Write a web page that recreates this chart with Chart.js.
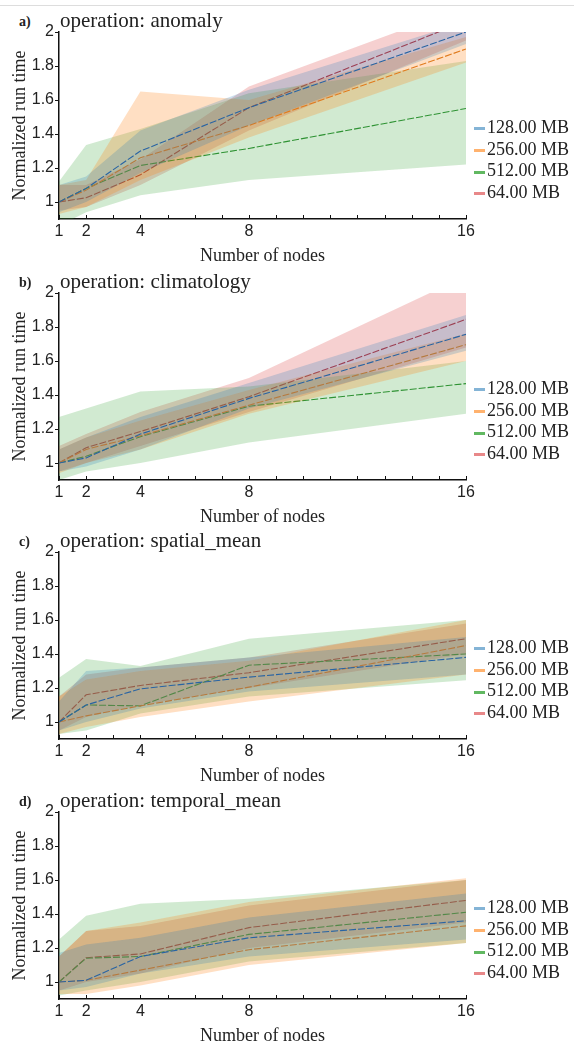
<!DOCTYPE html>
<html>
<head>
<meta charset="utf-8">
<script src="https://cdn.jsdelivr.net/npm/chart.js@4.4.1/dist/chart.umd.min.js"></script>
<style>
  body { margin: 0; background: #fff; width: 574px; height: 1047px; position: relative; overflow: hidden;
         font-family: "Liberation Serif", "Times New Roman", serif; color: #222; }
  .topline { position: absolute; left: 0; top: 5px; width: 574px; border-top: 1px solid #ddd; }
  .panel { position: absolute; left: 0; width: 574px; height: 267px; }
  .panel canvas { position: absolute; left: 0; top: 0; }
  .tag { position: absolute; left: 19px; top: 15px; font-weight: bold; font-size: 14px; line-height: 14px; }
  .title { position: absolute; left: 60px; top: 10px; font-size: 21px; line-height: 21px; white-space: nowrap; }
  .legend { position: absolute; left: 474px; top: 117px; font-size: 18px; line-height: 21.6px; }
  .legend div { white-space: nowrap; }
  .legend span { display: inline-block; width: 11px; height: 3px; vertical-align: middle; margin-right: 2px; }
</style>
</head>
<body>
<div class="topline"></div>
<div id="wrap"></div>
<script>
const nodes = [1, 2, 4, 8, 16];
const xTickLabels = [1, 2, 4, 8, 16];
const yTickValues = [1, 1.2, 1.4, 1.6, 1.8, 2];
const sizes = ['128.00 MB', '256.00 MB', '512.00 MB', '64.00 MB'];
const operations = ['anomaly', 'climatology', 'spatial_mean', 'temporal_mean'];
const panelTags = ['a)', 'b)', 'c)', 'd)'];

// rows follow the order of `sizes`; columns follow `nodes`
const anomalyMid = [
  [1.0, 1.08, 1.30, 1.555, 2.0],
  [1.0, 1.07, 1.26, 1.45, 1.90],
  [1.0, 1.08, 1.215, 1.315, 1.55],
  [1.0, 1.025, 1.16, 1.555, 2.065]
];
const anomalyLo = [
  [0.94, 1.0, 1.17, 1.45, 1.93],
  [0.93, 0.97, 1.13, 1.38, 1.82],
  [0.86, 0.94, 1.04, 1.13, 1.22],
  [0.95, 0.97, 1.10, 1.42, 1.95]
];
const anomalyHi = [
  [1.10, 1.15, 1.42, 1.66, 2.06],
  [1.10, 1.13, 1.65, 1.60, 1.97],
  [1.12, 1.335, 1.43, 1.64, 1.83],
  [1.10, 1.10, 1.25, 1.68, 2.15]
];

const climatologyMid = [
  [1.0, 1.03, 1.17, 1.38, 1.757],
  [1.0, 1.08, 1.16, 1.34, 1.696],
  [1.0, 1.04, 1.155, 1.334, 1.467],
  [1.0, 1.09, 1.185, 1.39, 1.845]
];
const climatologyLo = [
  [0.95, 0.98, 1.08, 1.32, 1.66],
  [0.94, 1.0, 1.08, 1.29, 1.60],
  [0.90, 0.95, 1.0, 1.12, 1.29],
  [0.95, 1.0, 1.10, 1.30, 1.68]
];
const climatologyHi = [
  [1.08, 1.15, 1.27, 1.47, 1.87],
  [1.08, 1.15, 1.25, 1.43, 1.76],
  [1.27, 1.32, 1.42, 1.45, 1.60],
  [1.10, 1.17, 1.30, 1.50, 2.10]
];

const spatialMid = [
  [1.0, 1.10, 1.195, 1.264, 1.38],
  [1.0, 1.036, 1.095, 1.205, 1.45],
  [1.0, 1.10, 1.095, 1.334, 1.40],
  [1.0, 1.16, 1.215, 1.29, 1.49]
];
const spatialLo = [
  [0.95, 1.0, 1.08, 1.18, 1.28],
  [0.93, 0.97, 1.03, 1.12, 1.28],
  [0.93, 0.95, 1.05, 1.15, 1.245],
  [0.95, 1.03, 1.10, 1.20, 1.40]
];
const spatialHi = [
  [1.12, 1.30, 1.32, 1.38, 1.50],
  [1.15, 1.25, 1.30, 1.36, 1.60],
  [1.26, 1.37, 1.33, 1.49, 1.60],
  [1.15, 1.28, 1.32, 1.38, 1.58]
];

const temporalMid = [
  [1.0, 1.01, 1.15, 1.26, 1.36],
  [1.0, 1.01, 1.07, 1.19, 1.33],
  [1.0, 1.14, 1.15, 1.28, 1.41],
  [1.0, 1.143, 1.165, 1.32, 1.48]
];
const temporalLo = [
  [0.95, 0.97, 1.05, 1.15, 1.25],
  [0.93, 0.93, 0.98, 1.10, 1.23],
  [0.92, 0.95, 1.0, 1.12, 1.23],
  [0.95, 1.0, 1.05, 1.20, 1.35]
];
const temporalHi = [
  [1.17, 1.22, 1.26, 1.38, 1.52],
  [1.15, 1.30, 1.35, 1.47, 1.61],
  [1.25, 1.39, 1.46, 1.49, 1.60],
  [1.15, 1.30, 1.33, 1.45, 1.60]
];

const midRows = [anomalyMid, climatologyMid, spatialMid, temporalMid];
const loRows = [anomalyLo, climatologyLo, spatialLo, temporalLo];
const hiRows = [anomalyHi, climatologyHi, spatialHi, temporalHi];

const lineColors = ['#2b5f9e', '#d67a22', '#2f8f35', '#b8323c'];
const bandColors = ['rgba(31,119,180,0.22)', 'rgba(255,127,14,0.25)', 'rgba(44,160,44,0.22)', 'rgba(214,39,40,0.22)'];
const legendColors = ['rgba(31,119,180,0.55)', 'rgba(255,127,14,0.6)', 'rgba(44,160,44,0.75)', 'rgba(214,39,40,0.55)'];
const panelTops = [0, 261, 520, 780];

const SANS = '"Liberation Sans", Arial, sans-serif';
const SERIF = '"Liberation Serif", "Times New Roman", serif';

// small tick marks pointing up into the plot on the x axis
const innerTicks = {
  id: 'innerTicks',
  afterDraw(chart) {
    const { ctx, chartArea } = chart;
    const x = chart.scales.x;
    ctx.save();
    ctx.strokeStyle = '#111';
    ctx.lineWidth = 1;
    x.ticks.forEach(t => {
      const px = Math.round(x.getPixelForValue(t.value)) + 0.5;
      ctx.beginPath();
      ctx.moveTo(px, chartArea.bottom);
      ctx.lineTo(px, chartArea.bottom - 4);
      ctx.stroke();
    });
    ctx.restore();
  }
};

function toPoints(row) {
  return row.map((v, i) => ({ x: nodes[i], y: v }));
}

function buildDatasets(p) {
  const sets = [];
  sizes.forEach((name, s) => {
    sets.push({
      label: name + ' hi', data: toPoints(hiRows[p][s]),
      borderWidth: 0, pointRadius: 0, backgroundColor: bandColors[s], fill: '+1'
    });
    sets.push({
      label: name + ' lo', data: toPoints(loRows[p][s]),
      borderWidth: 0, pointRadius: 0, fill: false
    });
    sets.push({
      label: name, data: toPoints(midRows[p][s]),
      borderColor: lineColors[s], borderWidth: 1.1, borderDash: [7, 2],
      pointRadius: 0, fill: false, tension: 0
    });
  });
  return sets;
}

const wrap = document.getElementById('wrap');

operations.forEach((op, p) => {
  const panel = document.createElement('div');
  panel.className = 'panel';
  panel.style.top = panelTops[p] + 'px';
  panel.innerHTML = `
    <div class="tag">${panelTags[p]}</div>
    <canvas width="480" height="267"></canvas>
    <div class="title">operation: ${op}</div>
    <div class="legend">${sizes.map((s, i) =>
      `<div><span style="background:${legendColors[i]}"></span>${s}</div>`).join('')}</div>`;
  wrap.appendChild(panel);

  new Chart(panel.querySelector('canvas'), {
    type: 'line',
    data: { datasets: buildDatasets(p) },
    options: {
      responsive: false,
      animation: false,
      layout: { padding: { left: 9, top: 32, right: 14, bottom: 0 } },
      plugins: { legend: { display: false }, tooltip: { enabled: false } },
      scales: {
        x: {
          type: 'linear', min: 1, max: 16,
          afterFit: s => { s.height = 48; },
          grid: { display: false, drawTicks: false },
          border: { display: true, color: '#111', width: 1.5 },
          ticks: {
            stepSize: 1, autoSkip: false, maxRotation: 0, padding: 3,
            color: '#222', font: { family: SANS, size: 16 },
            callback: v => xTickLabels.includes(v) ? String(v) : ''
          },
          title: { display: true, text: 'Number of nodes', color: '#222', padding: 0,
                   font: { family: SERIF, size: 18 } }
        },
        y: {
          min: 0.9, max: 2,
          afterFit: s => { s.width = 50; },
          afterBuildTicks: s => { s.ticks = yTickValues.map(v => ({ value: v })); },
          grid: { display: true, drawOnChartArea: false, drawTicks: true, tickLength: 4, color: '#111' },
          border: { display: true, color: '#111', width: 1.5 },
          ticks: { padding: 1, color: '#222', font: { family: SANS, size: 16 },
                   callback: v => String(v) },
          title: { display: true, text: 'Normalized run time', color: '#222', padding: 0,
                   font: { family: SERIF, size: 18 } }
        }
      }
    },
    plugins: [innerTicks]
  });
});
</script>
</body>
</html>
